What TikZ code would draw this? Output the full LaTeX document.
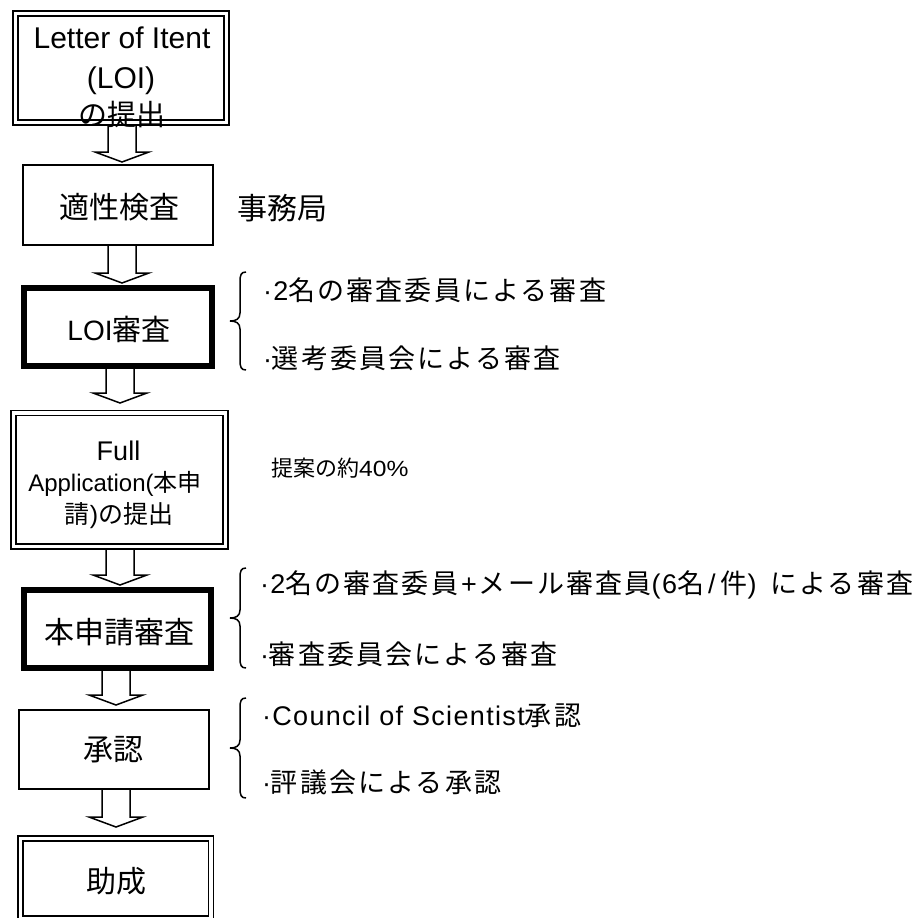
\documentclass[tikz,border=0pt]{standalone}
\usepackage{fontspec}
\usepackage{graphicx}
\setmainfont{Liberation Sans}
\newfontfamily\jp{Noto Sans CJK JP}
\newfontfamily\jpsp{Noto Sans CJK JP}[LetterSpace=8]
\newfontfamily\lasp{Liberation Sans}[LetterSpace=5]
\usetikzlibrary{calc}
\newcommand\setfs[1]{\fontsize{#1}{#1}\selectfont}
\newcommand\sJ[1]{{\jpsp #1}}
\newcommand\sL[1]{{\lasp #1}}
\tikzset{
  box/.style={draw, line width=2pt, inner sep=0pt, outer sep=0pt, fill=white},
  boxthick/.style={box, line width=6pt},
  boxdouble/.style={box, double, double distance=3.2pt, line width=1.8pt},
  barrow/.style={draw, line width=1.5pt, fill=white, line join=miter},
  bracestyle/.style={draw, line width=1.5pt},
  txt/.style={inner sep=0pt, outer sep=0pt, anchor=base},
  sidetxt/.style={inner sep=0pt, outer sep=0pt, anchor=base west, font=\setfs{27}},
}
\newcommand\blockarr[4]{% from, to, x center, gap
  \draw[barrow] let \p1=(#1.south), \p2=(#2.north) in
    ({(#3-14)*1pt},\y1) -- ({(#3-14)*1pt},{\y2+(#4+10)*1pt})
    -- ({(#3-27)*1pt},{\y2+(#4+10)*1pt}) -- ({#3*1pt},{\y2+#4*1pt})
    -- ({(#3+27)*1pt},{\y2+(#4+10)*1pt}) -- ({(#3+14)*1pt},{\y2+(#4+10)*1pt})
    -- ({(#3+14)*1pt},\y1);
}
\newcommand\sidebrace[3]{% top, mid, bottom
  \draw[bracestyle] (246,#1) .. controls (241,#1) and (240,#1+3) .. (240,#1+10)
    -- (240,#2-8) .. controls (240,#2-2) and (236,#2) .. (230,#2)
    .. controls (236,#2) and (240,#2+2) .. (240,#2+8)
    -- (240,#3-10) .. controls (240,#3-3) and (241,#3) .. (246,#3);
}
\begin{document}
\begin{tikzpicture}[x=1pt,y=-1pt]
\useasboundingbox (0,0) rectangle (918,918);
\clip (0,0) rectangle (918,918);

% box shapes (empty, sized)
\node[boxdouble, minimum width=211, minimum height=109] (b1) at (121,68) {};
\node[box, minimum width=190, minimum height=80] (b2) at (118,204.5) {};
\node[boxthick, minimum width=188.3, minimum height=78] (b3) at (117.85,327) {};
\node[boxdouble, minimum width=212, minimum height=133.5] (b4) at (119.75,479.75) {};
\node[boxthick, minimum width=187.3, minimum height=78] (b5) at (117.35,629) {};
\node[box, minimum width=190, minimum height=79] (b6) at (114,749.5) {};
\node[boxdouble, minimum width=190.25, minimum height=80] (b7) at (115.9,878.75) {};

% block arrows
\blockarr{b1}{b2}{122}{2.5}
\blockarr{b2}{b3}{122}{5}
\blockarr{b3}{b4}{120}{10}
\blockarr{b4}{b5}{120}{5}
\blockarr{b5}{b6}{116}{5}
\blockarr{b6}{b7}{116}{11.75}

% redraw boxes on top of arrow shafts
\node[boxdouble, minimum width=211, minimum height=109] at (121,68) {};
\node[box, minimum width=190, minimum height=80] at (118,204.5) {};
\node[boxthick, minimum width=188.3, minimum height=78] at (117.85,327) {};
\node[boxdouble, minimum width=212, minimum height=133.5] at (119.75,479.75) {};
\node[boxthick, minimum width=187.3, minimum height=78] at (117.35,629) {};
\node[box, minimum width=190, minimum height=79] at (114,749.5) {};
\node[boxdouble, minimum width=190.25, minimum height=80] at (115.9,878.75) {};

% box texts
\node[txt, font=\setfs{30}] (t1a) at (122,48) {Letter of Itent};
\node[txt, font=\setfs{30}] (t1b) at (121,88) {(LOI)};
\node[txt, font=\setfs{29}\jp] (t1c) at (121.5,125) {の提出};
\node[txt, font=\setfs{30}\jp] (t2) at (119.5,218.5) {適性検査};
\node[txt, font=\setfs{28}] (t3) at (119,340) {LOI{\setfs{29}\jp 審査}};
\node[txt, font=\setfs{27}] (t4a) at (118.5,460) {Full};
\node[txt, font=\setfs{24}] (t4b) at (115,491) {Application({\jp 本申}};
\node[txt, font=\setfs{25}] (t4c) at (119,523) {{\jp 請}){\jp の提出}};
\node[txt, font=\setfs{30}\jp] (t5) at (119,643) {本申請審査};
\node[txt, font=\setfs{30}\jp] (t6) at (113,760) {承認};
\node[txt, font=\setfs{30}\jp] (t7) at (116,892) {助成};

% side notes
\node[txt, font=\setfs{30}\jp] (n1) at (282.5,219) {事務局};
\node[inner sep=0pt, anchor=base west, font=\setfs{22}] (n2) at (271,476) {{\jp 提案の約}\scalebox{1.12}[1]{40\%}};

\sidebrace{272}{321}{370}
\node[sidetxt] (s1a) at (263,300) {\sL{·2}\sJ{名の審査委員による審査}};
\node[sidetxt] (s1b) at (263,368) {\sL{·}\sJ{選考委員会による審査}};

\sidebrace{568}{618}{668}
\node[sidetxt] (s2a) at (260,593) {\sL{·2}\sJ{名の審査委員}\hspace{3pt}\sL{+}\hspace{2pt}\sJ{メール審査員}\sL{(6}\sJ{名}\hspace{4pt}\sL{/}\hspace{5pt}\sJ{件}\sL{)\hspace{5pt} }\sJ{による審査}};
\node[sidetxt] (s2b) at (260,664) {\sL{·}\sJ{審査委員会による審査}};

\sidebrace{698}{748}{798}
\node[sidetxt] (s3a) at (262,725) {\sL{·Council of Scientist}\sJ{承認}};
\node[sidetxt] (s3b) at (262,792) {\sL{·}\sJ{評議会による承認}};
\end{tikzpicture}
\end{document}
